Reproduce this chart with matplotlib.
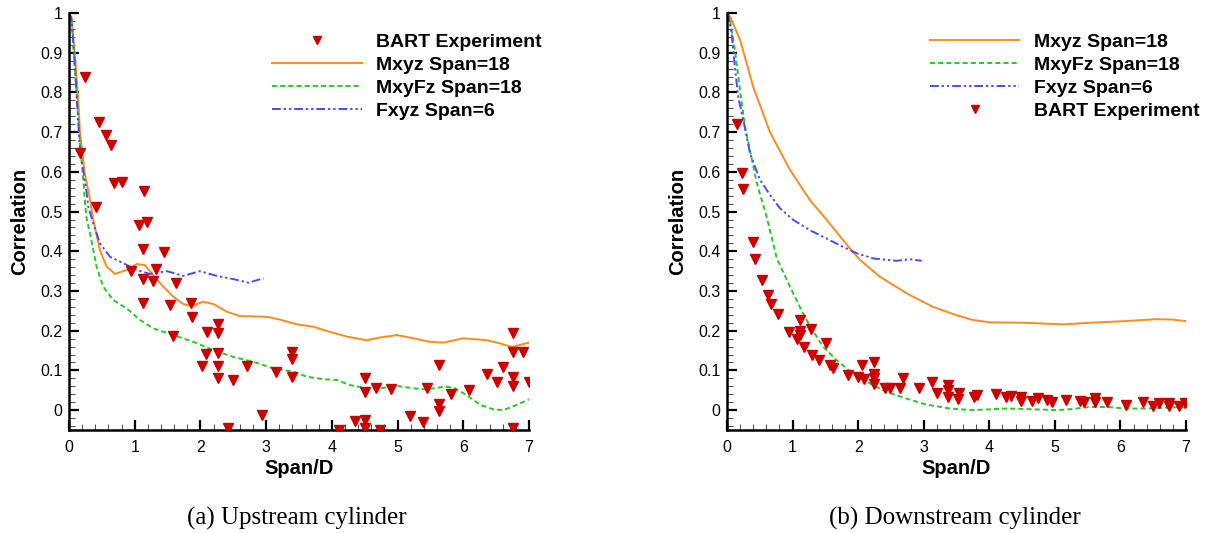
import numpy as np
import matplotlib
matplotlib.use('Agg')
import matplotlib.pyplot as plt
from matplotlib.ticker import MultipleLocator, FormatStrFormatter

plt.rcParams['font.family'] = ['Liberation Sans', 'DejaVu Sans']

#Upstream cylinder (a)
up_exp_x = [0.17, 0.25, 0.41, 0.45, 0.56, 0.64, 0.69, 0.80, 0.95, 1.07, 1.13, 1.13, 1.13,
            1.14, 1.19, 1.28, 1.32, 1.44, 1.53, 1.59, 1.63, 1.86, 1.87, 2.02, 2.08, 2.10,
            2.26, 2.26, 2.26, 2.26, 2.26, 2.42, 2.50, 2.71, 2.94, 3.15, 3.39, 3.39, 3.39,
            4.11, 4.35, 4.51, 4.51, 4.51, 4.51, 4.67, 4.74, 4.90, 5.19, 5.39, 5.45, 5.63,
            5.63, 5.63, 5.81, 6.08, 6.36, 6.51, 6.60, 6.76, 6.76, 6.76, 6.76, 6.76, 6.91, 7.00]
up_exp_y = [0.648, 0.839, 0.511, 0.726, 0.693, 0.668, 0.571, 0.574, 0.351, 0.465, 0.406, 0.331, 0.269,
            0.552, 0.474, 0.326, 0.355, 0.399, 0.266, 0.186, 0.321, 0.269, 0.235, 0.111, 0.141, 0.196,
            0.216, 0.193, 0.143, 0.111, 0.081, -0.045, 0.077, 0.112, -0.013, 0.095, 0.147, 0.128, 0.084,
            -0.05, -0.027, 0.080, 0.045, -0.024, -0.045, 0.055, -0.05, 0.054, -0.015, -0.030, 0.055, 0.114,
            0.015, -0.003, 0.040, 0.050, 0.092, 0.070, 0.109, 0.194, 0.146, 0.083, 0.061, -0.044, 0.146, 0.071]

up_mxyz_x = [0.0, 0.04, 0.09, 0.14, 0.167, 0.24, 0.32, 0.37, 0.47, 0.574, 0.70, 0.878, 1.03, 1.157,
             1.28, 1.435, 1.59, 1.74, 1.87, 2.04, 2.20, 2.40, 2.60, 3.01, 3.21, 3.47, 3.72, 3.97,
             4.23, 4.53, 4.73, 4.99, 5.24, 5.49, 5.70, 6.00, 6.36, 6.56, 6.74, 6.86, 7.0]
up_mxyz_y = [1.0, 0.98, 0.898, 0.78, 0.70, 0.596, 0.53, 0.479, 0.403, 0.361, 0.343, 0.353, 0.368, 0.365,
             0.34, 0.311, 0.285, 0.267, 0.262, 0.273, 0.267, 0.248, 0.237, 0.235, 0.228, 0.216, 0.210, 0.197,
             0.185, 0.176, 0.183, 0.189, 0.181, 0.172, 0.170, 0.181, 0.176, 0.168, 0.159, 0.164, 0.170]

up_mxyfz_x = [0.0, 0.04, 0.09, 0.167, 0.218, 0.244, 0.27, 0.32, 0.42, 0.52, 0.674, 0.878, 1.08, 1.28,
              1.59, 1.89, 2.20, 2.50, 2.80, 3.11, 3.41, 3.62, 3.87, 4.07, 4.28, 4.53, 4.73, 4.99,
              5.24, 5.44, 5.70, 5.85, 6.05, 6.26, 6.46, 6.61, 6.81, 7.0]
up_mxyfz_y = [1.0, 0.98, 0.86, 0.672, 0.579, 0.52, 0.48, 0.445, 0.361, 0.311, 0.277, 0.256, 0.227, 0.206,
              0.189, 0.172, 0.151, 0.134, 0.122, 0.105, 0.097, 0.084, 0.078, 0.076, 0.063, 0.055, 0.055, 0.061,
              0.055, 0.052, 0.059, 0.057, 0.038, 0.013, 0.002, 0.0, 0.013, 0.027]

up_fxyz_x = [0.0, 0.04, 0.09, 0.167, 0.27, 0.294, 0.37, 0.47, 0.624, 0.826, 1.03, 1.23, 1.49, 1.74,
             1.99, 2.25, 2.50, 2.73, 2.96]
up_fxyz_y = [1.0, 0.987, 0.865, 0.655, 0.546, 0.512, 0.47, 0.42, 0.386, 0.37, 0.353, 0.343, 0.35, 0.338,
             0.35, 0.338, 0.33, 0.321, 0.332]

#Downstream cylinder (b)
dn_exp_x = [0.15, 0.23, 0.24, 0.39, 0.43, 0.54, 0.63, 0.67, 0.78, 0.94, 1.06, 1.11, 1.11, 1.11,
            1.17, 1.28, 1.30, 1.41, 1.51, 1.57, 1.61, 1.84, 2.00, 2.06, 2.09, 2.24, 2.24, 2.24,
            2.24, 2.41, 2.49, 2.64, 2.69, 2.93, 3.12, 3.20, 3.37, 3.37, 3.37, 3.54, 3.53, 3.76,
            3.82, 4.10, 4.25, 4.33, 4.49, 4.49, 4.65, 4.74, 4.88, 4.96, 5.17, 5.38, 5.44, 5.61,
            5.61, 5.80, 6.08, 6.35, 6.50, 6.59, 6.74, 6.74, 6.89, 6.99]
dn_exp_y = [0.720, 0.598, 0.557, 0.424, 0.381, 0.327, 0.290, 0.267, 0.241, 0.197, 0.178, 0.228, 0.200, 0.190,
            0.159, 0.204, 0.138, 0.126, 0.170, 0.114, 0.107, 0.089, 0.084, 0.113, 0.078, 0.122, 0.092, 0.080,
            0.065, 0.057, 0.055, 0.055, 0.082, 0.055, 0.070, 0.044, 0.063, 0.050, 0.032, 0.044, 0.029, 0.032,
            0.038, 0.040, 0.032, 0.035, 0.032, 0.024, 0.023, 0.031, 0.025, 0.021, 0.025, 0.023, 0.021, 0.031,
            0.021, 0.021, 0.014, 0.021, 0.011, 0.017, 0.019, 0.011, 0.011, 0.017]

dn_mxyz_x = [0.0, 0.05, 0.2, 0.4, 0.655, 0.96, 1.265, 1.52, 1.875, 2.03, 2.33, 2.74, 3.14, 3.50,
             3.75, 4.01, 4.52, 5.13, 5.53, 6.04, 6.55, 6.80, 7.0]
dn_mxyz_y = [1.0, 0.99, 0.932, 0.814, 0.70, 0.605, 0.529, 0.479, 0.407, 0.378, 0.336, 0.294, 0.260, 0.239,
             0.227, 0.221, 0.220, 0.216, 0.220, 0.224, 0.229, 0.228, 0.224]

dn_mxyfz_x = [0.0, 0.046, 0.12, 0.198, 0.274, 0.35, 0.45, 0.50, 0.605, 0.76, 0.96, 1.11, 1.27, 1.47,
              1.67, 1.92, 2.18, 2.43, 2.74, 3.04, 3.40, 3.75, 4.26, 4.52, 5.03, 5.28, 5.53, 5.79,
              6.09, 6.39, 6.80, 7.0]
dn_mxyfz_y = [1.0, 0.982, 0.907, 0.806, 0.714, 0.655, 0.575, 0.546, 0.487, 0.382, 0.311, 0.26, 0.21, 0.159,
              0.126, 0.092, 0.067, 0.046, 0.029, 0.014, 0.004, 0.0, 0.004, 0.003, 0.0, 0.003, 0.008, 0.008,
              0.004, 0.004, 0.007, 0.007]

dn_fxyz_x = [0.0, 0.02, 0.07, 0.12, 0.17, 0.25, 0.35, 0.50, 0.655, 0.81, 1.01, 1.265, 1.52, 1.77,
             1.98, 2.23, 2.58, 2.79, 2.97]
dn_fxyz_y = [1.0, 0.995, 0.949, 0.865, 0.789, 0.730, 0.647, 0.581, 0.542, 0.508, 0.479, 0.453, 0.432, 0.411,
             0.395, 0.382, 0.376, 0.380, 0.376]

red = '#cc0000'
orange = '#ff8a1c'
green = '#22cc22'
blue = '#4a4aff'
dash_green = (0, (2.6, 1.6))
dash_blue = (0, (4.5, 1.5, 1.2, 1.5, 1.2, 1.5))


def style_axes(ax):
    ax.set_xlim(0, 7)
    ax.set_ylim(-0.05, 1.0)
    ax.xaxis.set_major_locator(MultipleLocator(1))
    ax.xaxis.set_minor_locator(MultipleLocator(0.2))
    ax.yaxis.set_major_locator(MultipleLocator(0.1))
    ax.yaxis.set_minor_locator(MultipleLocator(0.02))
    ax.yaxis.set_major_formatter(FormatStrFormatter('%g'))
    ax.spines['top'].set_visible(False)
    ax.spines['right'].set_visible(False)
    ax.spines['left'].set_linewidth(1.8)
    ax.spines['bottom'].set_linewidth(1.8)
    ax.tick_params(which='major', direction='in', length=7.5, width=1.6, labelsize=11.5)
    ax.tick_params(which='minor', direction='in', length=4.5, width=0.8, color='#555555')
    ax.tick_params(axis='x', which='major', pad=7)
    ax.tick_params(axis='y', which='major', pad=4.5)
    ax.set_xlabel('Span/D', fontsize=14.5, fontweight='bold', labelpad=3)
    ax.set_ylabel('Correlation', fontsize=14.5, fontweight='bold')
    ax.yaxis.set_label_coords(-0.086, 0.5)


fig = plt.figure(figsize=(12.06, 5.33), dpi=100)
ax1 = fig.add_axes([69 / 1206, 103 / 533, 460 / 1206, 417 / 533])
ax2 = fig.add_axes([727 / 1206, 103 / 533, 459 / 1206, 417 / 533])

ax1.plot(up_exp_x, up_exp_y, 'v', color=red, ms=6.8, ls='none', label='BART Experiment', zorder=5)
ax1.plot(up_mxyz_x, up_mxyz_y, color=orange, lw=1.4, label='Mxyz Span=18')
ax1.plot(up_mxyfz_x, up_mxyfz_y, color=green, lw=1.4, ls=dash_green, label='MxyFz Span=18')
ax1.plot(up_fxyz_x, up_fxyz_y, color=blue, lw=1.4, ls=dash_blue, label='Fxyz Span=6')

ax2.plot(dn_mxyz_x, dn_mxyz_y, color=orange, lw=1.4, label='Mxyz Span=18')
ax2.plot(dn_mxyfz_x, dn_mxyfz_y, color=green, lw=1.4, ls=dash_green, label='MxyFz Span=18')
ax2.plot(dn_fxyz_x, dn_fxyz_y, color=blue, lw=1.4, ls=dash_blue, label='Fxyz Span=6')
ax2.plot(dn_exp_x, dn_exp_y, 'v', color=red, ms=6.8, ls='none', label='BART Experiment', zorder=5)

for ax in (ax1, ax2):
    style_axes(ax)
    ax.legend(loc='upper left', bbox_to_anchor=(0.442, 0.951), frameon=False,
              prop={'weight': 'bold', 'size': 14}, handlelength=4.6, handletextpad=0.75,
              labelspacing=0.28, borderpad=0, borderaxespad=0, numpoints=1, markerscale=0.8)

fig.text(297 / 1206, 0.028, '(a) Upstream cylinder', ha='center', va='center',
         fontsize=18, family=['Liberation Serif', 'DejaVu Serif'])
fig.text(955 / 1206, 0.028, '(b) Downstream cylinder', ha='center', va='center',
         fontsize=18, family=['Liberation Serif', 'DejaVu Serif'])

fig.savefig('out.png', dpi=100)
